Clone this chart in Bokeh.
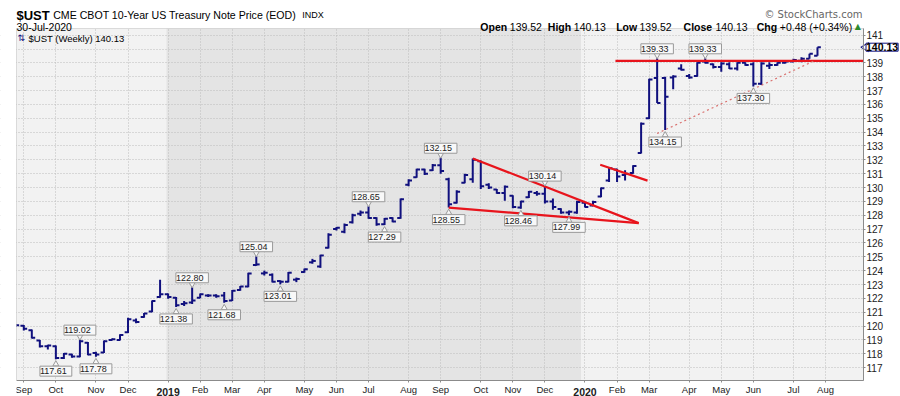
import numpy as np
import pandas as pd
from bokeh.plotting import figure
from bokeh.models import (ColumnDataSource, Range1d, FixedTicker, LabelSet, Label,
                          BoxAnnotation)
from bokeh.core.properties import value
from bokeh.embed import file_html
from bokeh.resources import INLINE

# ---------------- data (weekly OHLC, week ending Friday) ----------------
FIRST_WEEK = "2018-08-31"
opens = [120.10, 120.02, 119.70, 118.95, 118.55, 118.55, 117.70, 117.95, 117.80, 118.80,
         118.05, 118.10, 119.00, 119.00, 119.55, 120.40, 120.65, 121.05, 122.10, 122.30,
         122.05, 121.60, 121.70, 122.05, 122.20, 122.20, 122.20, 121.85, 122.60, 122.85,
         124.40, 123.80, 123.70, 123.25, 123.20, 123.35, 123.90, 124.60, 124.30, 125.65,
         127.00, 126.80, 127.50, 128.10, 128.20, 127.80, 127.35, 127.80, 127.80, 130.20,
         130.75, 131.30, 131.25, 131.60, 130.60, 128.90, 130.35, 130.60, 131.90, 130.20,
         129.85, 129.60, 129.40, 128.55, 129.30, 129.60, 129.55, 129.00, 128.45, 128.20,
         128.20, 128.90, 128.70, 129.35, 130.50, 131.30, 130.90, 131.05, 132.50, 135.00,
         137.90, 137.90, 137.95, 138.60, 138.05, 138.05, 139.10, 138.90, 138.70, 138.90,
         138.60, 139.00, 138.90, 137.50, 138.80, 138.85, 139.00, 139.10, 139.15, 139.30,
         139.52]
highs = [120.15, 120.08, 119.75, 119.00, 118.65, 118.60, 118.05, 118.00, 119.02, 118.85,
         118.15, 118.95, 119.10, 119.40, 120.60, 120.55, 120.95, 121.85, 123.35, 122.35,
         122.10, 121.80, 122.80, 122.35, 122.30, 122.30, 122.45, 122.60, 122.90, 123.85,
         125.04, 124.00, 123.80, 123.30, 123.90, 123.50, 124.15, 124.85, 125.15, 126.70,
         127.15, 127.40, 128.10, 128.35, 128.65, 127.85, 127.80, 127.85, 129.20, 130.60,
         131.35, 131.35, 131.70, 132.15, 130.70, 129.80, 131.00, 132.10, 131.95, 130.30,
         129.90, 130.15, 129.45, 129.05, 129.75, 129.75, 130.14, 129.20, 128.50, 128.35,
         129.05, 128.95, 129.05, 130.00, 131.45, 131.35, 131.25, 131.60, 134.70, 137.85,
         139.33, 138.00, 138.10, 138.90, 138.20, 139.05, 139.33, 138.95, 139.05, 139.05,
         139.05, 139.05, 139.05, 139.05, 139.05, 139.05, 139.15, 139.30, 139.40, 139.65,
         140.13]
lows = [119.95, 119.68, 119.10, 118.45, 118.30, 117.61, 117.62, 117.72, 117.75, 117.90,
        117.78, 118.05, 118.95, 118.95, 119.50, 120.20, 120.60, 121.00, 122.05, 121.98,
        121.38, 121.45, 121.60, 122.00, 122.10, 122.05, 121.68, 121.80, 122.55, 122.80,
        124.35, 123.65, 123.15, 123.01, 123.15, 123.17, 123.85, 124.50, 124.20, 125.60,
        126.90, 126.70, 127.40, 127.95, 127.75, 127.25, 127.29, 127.50, 127.75, 130.10,
        130.70, 130.90, 131.20, 131.00, 128.55, 128.85, 130.30, 130.35, 129.90, 129.90,
        129.55, 129.05, 128.50, 128.46, 129.25, 129.40, 128.85, 128.40, 128.10, 127.99,
        128.10, 128.55, 128.65, 129.30, 130.40, 130.40, 130.50, 131.00, 132.45, 134.95,
        136.10, 134.15, 137.10, 138.45, 137.85, 138.00, 138.95, 138.60, 138.35, 138.55,
        138.45, 138.80, 137.30, 137.40, 138.55, 138.80, 138.95, 139.05, 139.05, 139.30,
        139.52]
closes = [120.05, 119.80, 119.15, 118.55, 118.60, 117.70, 118.00, 117.80, 118.90, 117.95,
          117.95, 118.90, 119.05, 119.35, 120.50, 120.30, 120.90, 121.80, 122.30, 122.10,
          121.50, 121.65, 121.85, 122.30, 122.20, 122.15, 121.80, 122.55, 122.85, 123.80,
          124.45, 123.85, 123.20, 123.20, 123.85, 123.40, 124.10, 124.70, 125.10, 126.60,
          127.10, 127.30, 128.00, 128.20, 127.80, 127.35, 127.75, 127.55, 129.15, 130.50,
          131.30, 131.00, 131.60, 131.20, 128.80, 129.70, 130.90, 132.00, 130.10, 130.00,
          129.60, 130.05, 128.60, 129.00, 129.70, 129.55, 129.00, 128.60, 128.20, 128.25,
          128.95, 128.60, 128.95, 129.95, 131.40, 130.80, 131.00, 131.55, 134.60, 137.80,
          136.10, 136.55, 138.02, 138.50, 137.95, 139.00, 139.00, 138.70, 138.95, 138.60,
          139.00, 138.85, 137.50, 138.95, 138.85, 139.00, 139.10, 139.20, 139.30, 139.65,
          140.13]

# x-axis month labels (placed at the first weekly bar whose Monday is in that month)
month_labels = ["Sep", "Oct", "Nov", "Dec", "2019", "Feb", "Mar", "Apr", "May", "Jun", "Jul",
                "Aug", "Sep", "Oct", "Nov", "Dec", "2020", "Feb", "Mar", "Apr", "May", "Jun",
                "Jul", "Aug"]
price_ticks = list(range(117, 142))

# price annotations (week index, value)
hi_lab_idx = [8, 22, 30, 44, 53, 66, 80, 86]
hi_lab_val = [119.02, 122.80, 125.04, 128.65, 132.15, 130.14, 139.33, 139.33]
lo_lab_idx = [5, 10, 20, 26, 33, 46, 54, 63, 69, 81, 92]
lo_lab_val = [117.61, 117.78, 121.38, 121.68, 123.01, 127.29, 128.55, 128.46, 127.99, 134.15, 137.30]

# drawn trendlines (week index, price)
wedge_top_x, wedge_top_y = [57, 77.7], [132.10, 127.43]
wedge_bot_x, wedge_bot_y = [54, 77.7], [128.55, 127.43]
flag_x, flag_y = [72.9, 78.8], [131.65, 130.50]
resist_x, resist_y = [74.8, 105.74], [139.15, 139.15]
support_x, support_y = [80.0, 99.8], [133.90, 139.20]

last_price = 140.13
# -----------------------------------------------------------------------

n = len(closes)
idx = np.arange(n)
all_weeks = pd.date_range(FIRST_WEEK, periods=106, freq="7D")
mondays = all_weeks - pd.Timedelta(days=4)
tick_idx = [i for i in range(1, len(all_weeks)) if mondays[i].month != mondays[i - 1].month]
tick_idx = tick_idx[:len(month_labels)]

FONT = "Liberation Sans"
NAVY = "#10107e"
RED = "#e8141c"

# canvas and plot-area geometry (px) ; visible data window of the plot area
W, H = 900, 396
PL, PR, PT, PB = 16, 863, 28, 380
X0, X1 = 0.09, 105.74
Y0, Y1 = 116.07, 141.48
kx = (PR - PL) / (X1 - X0)
ky = (PB - PT) / (Y1 - Y0)
XS, XE = X0 - PL / kx, X1 + (W - PR) / kx
YS, YE = Y0 - (H - PB) / ky, Y1 + PT / ky

p = figure(width=W, height=H, x_range=Range1d(XS, XE), y_range=Range1d(YS, YE),
           y_axis_location="right", toolbar_location=None, output_backend="svg",
           min_border=0)
p.background_fill_color = "white"
p.border_fill_color = "white"
p.outline_line_color = None

# plot area background + 2019 band
yr_ticks = [t for t, l in zip(tick_idx, month_labels) if l.isdigit()]
p.add_layout(BoxAnnotation(left=X0, right=X1, bottom=Y0, top=Y1, fill_color="#f2f2f2",
                           fill_alpha=1.0, line_alpha=0, level="image"))
p.add_layout(BoxAnnotation(left=yr_ticks[0] - 0.2, right=yr_ticks[1] - 0.5, bottom=Y0, top=Y1,
                           fill_color="#e4e4e4", fill_alpha=1.0, line_alpha=0, level="image"))

# grids
p.xgrid.ticker = FixedTicker(ticks=tick_idx)
p.ygrid.ticker = FixedTicker(ticks=price_ticks)
for g in (p.xgrid[0], p.ygrid[0]):
    g.grid_line_color = "#bdbdbd"
    g.grid_line_dash = "1 2"
    g.grid_line_width = 1

# white margins around the plot area (drawn over grid lines)
for box in (dict(left=XS, right=XE, bottom=Y1, top=YE),
            dict(left=XS, right=XE, bottom=YS, top=Y0),
            dict(left=X1, right=XE, bottom=YS, top=YE)):
    p.add_layout(BoxAnnotation(**box, fill_color="white", fill_alpha=1.0, line_alpha=0,
                               level="underlay"))
p.add_layout(BoxAnnotation(left=XS, right=X0, bottom=YS, top=YE, fill_color="white",
                           fill_alpha=1.0, line_alpha=0, level="guide"))
p.add_layout(BoxAnnotation(left=X0, right=X1, bottom=Y0, top=Y1, fill_alpha=0,
                           line_color="#8c8c8c", line_width=1, level="guide"))

# axes
xa = p.xaxis[0]
xa.fixed_location = Y0
xa.bounds = (X0, X1)
xa.ticker = FixedTicker(ticks=tick_idx)
xa.major_label_overrides = {t: ("" if l.isdigit() else l) for t, l in zip(tick_idx, month_labels)}
xa.major_label_text_font = FONT
xa.major_label_text_font_size = "9.5px"
xa.major_label_text_color = "#222222"
xa.major_tick_out = 2
xa.major_tick_in = 0
xa.minor_tick_out = 0
xa.minor_tick_in = 0
xa.major_label_standoff = 1
xa.axis_line_color = "#8c8c8c"
xa.major_tick_line_color = "#8c8c8c"

ya = p.yaxis[0]
ya.fixed_location = X1
ya.bounds = (Y0, Y1)
ya.ticker = FixedTicker(ticks=price_ticks)
ya.major_label_overrides = {140: ""}
ya.major_label_text_font = FONT
ya.major_label_text_font_size = "10px"
ya.major_label_text_color = "#222222"
ya.major_tick_out = 2
ya.major_tick_in = 0
ya.minor_tick_out = 0
ya.minor_tick_in = 0
ya.major_label_standoff = 1
ya.axis_line_color = "#8c8c8c"
ya.major_tick_line_color = "#8c8c8c"

for t, l in zip(tick_idx, month_labels):
    if l.isdigit():
        p.add_layout(Label(x=t, y=Y0, y_offset=-11, text=l,
                           text_align="center", text_baseline="alphabetic",
                           text_font=FONT, text_font_size="10.5px",
                           text_font_style="bold", text_color="#222222"))

# OHLC bars
src = ColumnDataSource(dict(x=idx, o=opens, h=highs, l=lows, c=closes,
                            xl=idx - 0.42, xr=idx + 0.42))
p.segment(x0="x", y0="l", x1="x", y1="h", source=src, line_color=NAVY, line_width=2)
p.segment(x0="xl", y0="o", x1="x", y1="o", source=src, line_color=NAVY, line_width=2)
p.segment(x0="x", y0="c", x1="xr", y1="c", source=src, line_color=NAVY, line_width=2)

# trendlines
p.line(wedge_top_x, wedge_top_y, line_color=RED, line_width=2.2)
p.line(wedge_bot_x, wedge_bot_y, line_color=RED, line_width=2.2)
p.line(flag_x, flag_y, line_color=RED, line_width=2.2)
p.line(resist_x, resist_y, line_color=RED, line_width=2.2)
p.line(support_x, support_y, line_color="#d9706e", line_width=1.2, line_dash="2 3")

# price labels with a small pointer notch toward the bar
BOX_FILL, BOX_LINE = "#f8f8f8", "#9a9a9a"
p.scatter(x=hi_lab_idx, y=[v + 3.0 / ky for v in hi_lab_val], marker="inverted_triangle",
          size=6, fill_color=BOX_FILL, line_color=BOX_LINE, line_width=1)
p.scatter(x=lo_lab_idx, y=[v - 5.0 / ky for v in lo_lab_val], marker="triangle",
          size=6, fill_color=BOX_FILL, line_color=BOX_LINE, line_width=1)
lab_style = dict(text_align="center", text_font=value(FONT), text_font_size=value("9px"),
                 text_color="#222222", background_fill_color=BOX_FILL,
                 border_line_color=BOX_LINE)
hs = ColumnDataSource(dict(x=hi_lab_idx, y=hi_lab_val, t=[f" {v:.2f} " for v in hi_lab_val]))
ls = ColumnDataSource(dict(x=lo_lab_idx, y=lo_lab_val, t=[f" {v:.2f} " for v in lo_lab_val]))
p.add_layout(LabelSet(x="x", y="y", text="t", source=hs, y_offset=4.5,
                      text_baseline="bottom", **lab_style))
p.add_layout(LabelSet(x="x", y="y", text="t", source=ls, y_offset=-7,
                      text_baseline="top", **lab_style))

# last price tag on the axis
p.scatter(x=[X1 + 2.5 / kx], y=[last_price], marker="triangle", angle=np.pi / 2, size=9,
          fill_color="white", line_color=NAVY, line_width=1)
p.add_layout(Label(x=X1, x_offset=2.5, y=last_price, text=f"{last_price:.2f}",
                   text_baseline="middle", text_align="left", text_font=FONT,
                   text_font_size="10.5px", text_font_style="bold", text_color="#000000",
                   background_fill_color="white", border_line_color=NAVY))


# ----- header texts (canvas px, baseline) -----
def hdr(X, Yb, text, size="11px", bold=False, color="#000000", align="left", font=FONT):
    p.add_layout(Label(x=X, y=H - Yb, x_units="screen", y_units="screen", text=text,
                       text_align=align, text_baseline="alphabetic", text_font=font,
                       text_font_size=size, text_font_style="bold" if bold else "normal",
                       text_color=color))


hdr(16, 14.5, "$UST", size="13px", bold=True)
hdr(52.7, 14.5, "CME CBOT 10-Year US Treasury Note Price (EOD)", size="10.6px")
hdr(301.7, 14.5, "INDX", size="9px")
hdr(16, 26, "30-Jul-2020", size="10.5px")
hdr(862, 14, "\u00a9 StockCharts.com", size="10px", color="#666666", align="right",
    font="DejaVu Sans")
# OHLC summary line: keywords right-aligned to their measured ends, values left-aligned
keywords = [(506.7, "Open"), (570.7, "High"), (636.7, "Low"), (711.7, "Close"), (776.7, "Chg")]
values_ = [(509.3, "139.52"), (573.3, "140.13"), (639.0, "139.52"), (715.0, "140.13"),
           (779.3, "+0.48 (+0.34%)")]
for X, t in keywords:
    hdr(X, 26.5, t, size="10.5px", bold=True, align="right")
for X, t in values_:
    hdr(X, 26.5, t, size="10.5px")
hdr(854.3, 25.5, "\u25b2", size="8px", color="#2e8b2e", font="DejaVu Sans")
hdr(17, 37.5, "\u21c5", size="9px", color=NAVY, font="DejaVu Sans")
hdr(28, 37.5, "$UST (Weekly) 140.13", size="9.5px")

open("out.html", "w").write(file_html(p, INLINE))
